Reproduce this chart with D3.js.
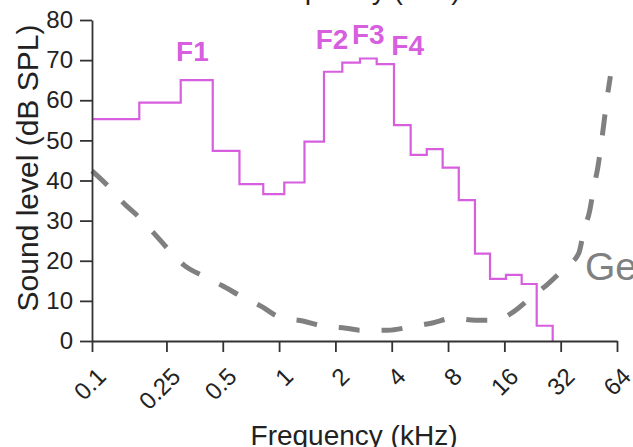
<!DOCTYPE html>
<html>
<head>
<meta charset="utf-8">
<script src="https://cdn.jsdelivr.net/npm/d3@7"></script>
<style>
	body { margin: 0; background: #fff; }
	svg { display: block; font-family: "Liberation Sans", Arial, sans-serif; }
</style>
</head>
<body>
<script>
// band edges (kHz) and the level of each band (dB SPL)
const bandEdges = [0.1, 0.179, 0.298, 0.442, 0.614, 0.823, 1.066, 1.367, 1.738, 2.177, 2.706,
	3.324, 4.113, 5.05, 6.156, 7.486, 9.13, 11.14, 13.41, 16.32, 19.8, 23.82, 29.0]
const bandLevels = [55.3, 59.4, 65.0, 47.4, 39.1, 36.6, 39.5, 49.7, 67.1, 69.4, 70.4,
	69.0, 53.8, 46.4, 47.8, 43.2, 35.1, 21.8, 15.5, 16.5, 14.2, 3.8]

// dashed hearing threshold curve
const thresholdFreqs = [0.1, 0.122, 0.146, 0.178, 0.214, 0.255, 0.31, 0.392, 0.501, 0.634, 0.8,
	1.0, 1.34, 1.72, 2.28, 2.71, 3.82, 5.0, 6.6, 8.5, 11.2, 14.5, 17.8, 22.4, 27.3, 33.6,
	40.0, 42.5, 45.8, 48.0, 50.6, 52.6, 54.3, 56.3, 59.0]
const thresholdLevels = [42.4, 38.6, 34.6, 30.9, 26.9, 22.9, 18.9, 16.2, 13.7, 11.0, 8.7,
	6.0, 5.0, 3.7, 3.2, 2.7, 2.7, 3.5, 4.5, 5.7, 5.2, 5.2, 7.2, 11.0, 14.2, 18.2,
	21.9, 27.4, 32.6, 38.1, 43.4, 48.8, 53.8, 59.6, 66.0]

// formant labels
const formantNames = ["F1", "F2", "F3", "F4"]
const formantFreqs = [0.344, 1.92, 3.0, 4.87]
const formantLevels = [69.8, 72.7, 74.0, 71.3]

const xTicks = [0.1, 0.25, 0.5, 1, 2, 4, 8, 16, 32, 64]
const yTicks = [0, 10, 20, 30, 40, 50, 60, 70, 80]

const pink = "#d75fdf"

var margin = { top: 20, left: 92 },
	width = 525,
	height = 321;

var svg = d3.select("body").append("svg")
	.attr("width", 633)
	.attr("height", 447);

var x = d3.scaleLog()
	.domain([0.1, 64])
	.range([0, width]);

var y = d3.scaleLinear()
	.domain([0, 80])
	.range([height, 0]);

var g = svg.append("g")
	.attr("transform", "translate(" + margin.left + "," + margin.top + ")");

// cut off text at the very top (from the panel above)
svg.append("text")
	.attr("x", 357)
	.attr("y", -1)
	.attr("text-anchor", "middle")
	.style("font-size", "28px")
	.style("fill", "#222")
	.text("Frequency (kHz)");

// step spectrum
var stepPoints = bandLevels.map((v, i) => [bandEdges[i], v]);
stepPoints.push([bandEdges[bandEdges.length - 1], 0]);

var stepLine = d3.line()
	.x(d => x(d[0]))
	.y(d => y(d[1]))
	.curve(d3.curveStepAfter);

g.append("path")
	.datum(stepPoints)
	.attr("d", stepLine)
	.attr("fill", "none")
	.attr("stroke", pink)
	.attr("stroke-width", 2.2);

// threshold curve
var thrLine = d3.line()
	.x((d, i) => x(thresholdFreqs[i]))
	.y(d => y(d))
	.curve(d3.curveMonotoneX);

g.append("path")
	.datum(thresholdLevels)
	.attr("d", thrLine)
	.attr("fill", "none")
	.attr("stroke", "#808080")
	.attr("stroke-width", 5)
	.attr("stroke-dasharray", "21,22");

// formant labels
g.selectAll(".formant")
	.data(formantNames)
	.enter().append("text")
	.attr("class", "formant")
	.attr("x", (d, i) => x(formantFreqs[i]))
	.attr("y", (d, i) => y(formantLevels[i]))
	.attr("text-anchor", "middle")
	.style("font-size", "28px")
	.style("font-weight", "bold")
	.style("fill", pink)
	.text(d => d);

// "Ge..." label running off the right edge
svg.append("text")
	.attr("x", 585)
	.attr("y", 280)
	.style("font-size", "39px")
	.style("fill", "#808080")
	.text("Gerbil");

// axes
var xAxis = g.append("g")
	.attr("transform", "translate(0," + height + ")")
	.call(d3.axisBottom(x).tickValues(xTicks).tickFormat(d => String(d)).tickSize(11).tickSizeOuter(0));

xAxis.selectAll("text")
	.attr("y", 0)
	.attr("dy", 0)
	.attr("text-anchor", "end")
	.attr("transform", "translate(15,37) rotate(-45)");

var yAxis = g.append("g")
	.call(d3.axisLeft(y).tickValues(yTicks).tickSize(12).tickPadding(7).tickSizeOuter(0));

[xAxis, yAxis].forEach(a => {
	a.selectAll("path, line").attr("stroke", "#333").attr("stroke-width", 1.8);
	a.selectAll("text").style("font-size", "24px").attr("fill", "#222");
});

// axis titles
svg.append("text")
	.attr("x", 354)
	.attr("y", 445)
	.attr("text-anchor", "middle")
	.style("font-size", "28px")
	.style("fill", "#222")
	.text("Frequency (kHz)");

svg.append("text")
	.attr("transform", "translate(38,168) rotate(-90)")
	.attr("text-anchor", "middle")
	.style("font-size", "30px")
	.style("fill", "#222")
	.text("Sound level (dB SPL)");
</script>
</body>
</html>
